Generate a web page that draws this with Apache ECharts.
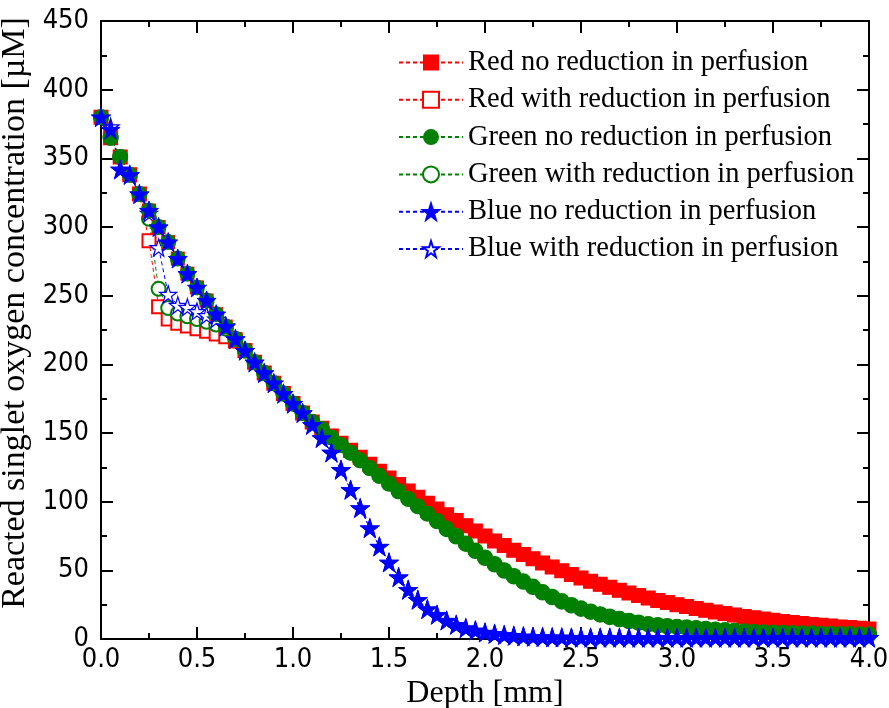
<!DOCTYPE html>
<html>
<head>
<meta charset="utf-8">
<script src="https://cdn.jsdelivr.net/npm/echarts@6/dist/echarts.min.js"></script>
<style>
  html, body { margin: 0; padding: 0; background: #fff; }
  #chart { width: 889px; height: 708px; }
</style>
</head>
<body>
<div id="chart"></div>
<script>
// ── Data ──────────────────────────────────────────────────────────────────────
const depth = [
  0.00, 0.05, 0.10, 0.15, 0.20, 0.25, 0.30, 0.35, 0.40, 0.45,
  0.50, 0.55, 0.60, 0.65, 0.70, 0.75, 0.80, 0.85, 0.90, 0.95,
  1.00, 1.05, 1.10, 1.15, 1.20, 1.25, 1.30, 1.35, 1.40, 1.45,
  1.50, 1.55, 1.60, 1.65, 1.70, 1.75, 1.80, 1.85, 1.90, 1.95,
  2.00, 2.05, 2.10, 2.15, 2.20, 2.25, 2.30, 2.35, 2.40, 2.45,
  2.50, 2.55, 2.60, 2.65, 2.70, 2.75, 2.80, 2.85, 2.90, 2.95,
  3.00, 3.05, 3.10, 3.15, 3.20, 3.25, 3.30, 3.35, 3.40, 3.45,
  3.50, 3.55, 3.60, 3.65, 3.70, 3.75, 3.80, 3.85, 3.90, 3.95,
  4.00
];

const redNo = [
  380, 365, 351, 338, 324, 312, 300, 289, 277, 266,
  256, 246.5, 236.5, 227.5, 218.5, 210, 201.5, 193.7, 186.3, 178.7,
  171.4, 164.6, 158, 153.5, 147.8, 142.6, 137.4, 132.3, 127.2, 122.1,
  117.2, 112.5, 107.8, 103.3, 98.9, 94.6, 90.4, 86.3, 82.4, 78.6,
  75, 71.4, 68, 64.7, 61.5, 58.4, 55.4, 52.5, 49.7, 47,
  44.5, 42.1, 39.8, 37.6, 35.5, 33.5, 31.6, 29.8, 28.1, 26.5,
  25, 23.6, 22.2, 20.9, 19.7, 18.5, 17.4, 16.4, 15.4, 14.5,
  13.6, 12.8, 12, 11.3, 10.6, 10, 9.4, 8.8, 8.3, 7.8,
  7.3
];

const redWith = [
  380, 365, 351, 338, 324, 290, 242, 233, 230, 228,
  226, 224, 222, 220, 217, 210, 201.5, 193.7, 186.3, 178.7,
  171.4, 164.6, 158, 153.5, 147.8, 142.6, 137.4, 132.3, 127.2, 122.1,
  117.2, 112.5, 107.8, 103.3, 98.9, 94.6, 90.4, 86.3, 82.4, 78.6,
  75, 71.4, 68, 64.7, 61.5, 58.4, 55.4, 52.5, 49.7, 47,
  44.5, 42.1, 39.8, 37.6, 35.5, 33.5, 31.6, 29.8, 28.1, 26.5,
  25, 23.6, 22.2, 20.9, 19.7, 18.5, 17.4, 16.4, 15.4, 14.5,
  13.6, 12.8, 12, 11.3, 10.6, 10, 9.4, 8.8, 8.3, 7.8,
  7.3
];

const greenNo = [
  380, 365, 351, 338, 324, 312, 300, 289, 277, 266,
  256, 246.5, 236.5, 227.5, 218.5, 210, 201.5, 193.7, 186.3, 178.7,
  171.4, 164.6, 158, 152.9, 146.8, 141.2, 135.7, 130.1, 124.5, 118.8,
  113.2, 107.6, 102.1, 96.7, 91.3, 85.9, 80.4, 75, 69.6, 64.4,
  59.4, 54.6, 50.1, 45.9, 42, 38.2, 34.2, 30.8, 27.6, 24.8,
  22.3, 20.1, 18.1, 16.3, 14.7, 13.3, 12.1, 11, 10.2, 9.5,
  9, 8.5, 8, 7.5, 7, 6.5, 6.1, 5.7, 5.3, 5,
  4.8, 4.6, 4.4, 4.2, 4.1, 3.9, 3.8, 3.7, 3.6, 3.5,
  3.4
];

const greenWith = [
  380, 365, 351, 338, 324, 306, 255, 241, 237, 235,
  233, 231, 229, 226, 218.5, 210, 201.5, 193.7, 186.3, 178.7,
  171.4, 164.6, 158, 152.9, 146.8, 141.2, 135.7, 130.1, 124.5, 118.8,
  113.2, 107.6, 102.1, 96.7, 91.3, 85.9, 80, 74.6, 69.2, 64,
  59, 54.2, 49.7, 45.5, 41.6, 37.8, 33.8, 30.4, 27.2, 24.4,
  21.9, 19.7, 17.7, 15.9, 14.3, 12.9, 11.7, 10.6, 9.8, 9.1,
  8.6, 8.1, 7.6, 7.1, 6.7, 6.2, 5.8, 5.4, 5.1, 4.8,
  4.6, 4.4, 4.2, 4.0, 3.9, 3.7, 3.6, 3.5, 3.4, 3.3,
  3.2
];

const blueNo = [
  380, 371, 342, 338, 324, 312, 300, 289, 277, 266,
  256, 246.5, 236.5, 227.5, 218.5, 210, 201.5, 193.7, 186.3, 178.7,
  171.4, 164.6, 156, 146.4, 135.9, 123.3, 108.7, 95.4, 80.8, 67.4,
  55.8, 45.1, 35.9, 28.6, 21.8, 17.7, 13.5, 10.4, 8, 6.3,
  4.8, 3.8, 3, 2.4, 2, 1.7, 1.5, 1.3, 1.2, 1.1,
  1, 1, 1, 1, 1, 1, 1, 1, 1, 1,
  1, 1, 1, 1, 1, 1, 1, 1, 1, 1,
  1, 1, 1, 1, 1, 1, 1, 1, 1, 1,
  1
];

const blueWith = [
  380, 373, 342, 338, 324, 310, 285, 251, 243, 241.5,
  238.5, 235.5, 233, 228, 218.5, 210, 201.5, 193.7, 186.3, 178.7,
  171.4, 164.6, 156, 146.4, 135.9, 123.3, 108.7, 95.4, 80.8, 67.4,
  55.8, 45.1, 35.9, 28.6, 21.8, 17.7, 13.5, 10.4, 8, 6.3,
  4.8, 3.8, 3, 2.4, 2, 1.7, 1.5, 1.3, 1.2, 1.1,
  1, 1, 1, 1, 1, 1, 1, 1, 1, 1,
  1, 1, 1, 1, 1, 1, 1, 1, 1, 1,
  1, 1, 1, 1, 1, 1, 1, 1, 1, 1,
  1
];

const seriesNames = [
  'Red no reduction in perfusion',
  'Red with reduction in perfusion',
  'Green no reduction in perfusion',
  'Green with reduction in perfusion',
  'Blue no reduction in perfusion',
  'Blue with reduction in perfusion',
];

// ── Styling ───────────────────────────────────────────────────────────────────
const RED = '#FF0000', GREEN = '#008000', BLUE = '#0000FF';
const STAR = 'path://M50,0 L61.8,35.1 L98.5,35.1 L68.7,56.8 L79.4,90.5 L50,69.1 L20.6,90.5 L31.3,56.8 L1.5,35.1 L38.2,35.1 Z';
const SERIF = "'Liberation Serif', 'Times New Roman', serif";
const NARROW = "'Liberation Sans Narrow', 'Arial Narrow', 'DejaVu Sans Condensed', sans-serif";

const pair = ys => depth.map((x, i) => [x, ys[i]]);

// open markers sit under the filled ones (z 2 vs 3), as in the reference
function makeSeries(name, ys, color, symbol, size, filled) {
  const isPath = symbol.startsWith('path://');
  let itemStyle;
  if (filled) itemStyle = isPath ? { color, borderColor: color, borderWidth: 1 } : { color, borderWidth: 0 };
  else if (isPath) itemStyle = { color: '#fff', borderColor: color, borderWidth: 1.2 };
  else itemStyle = { color, borderWidth: 1.2 }; // emptyRect / emptyCircle fill white themselves
  return {
    name,
    type: 'line',
    data: pair(ys),
    symbol,
    symbolSize: size,
    showAllSymbol: true,
    lineStyle: { color, width: 1, type: [4, 3] },
    itemStyle,
    emphasis: { disabled: true },
    z: filled ? 3 : 2,
  };
}

const axisLine = { show: true, onZero: false, lineStyle: { color: '#000', width: 2 } };
const tick = { show: true, inside: true, length: 12, lineStyle: { color: '#000', width: 2 } };
const minor = { show: true, splitNumber: 2, length: 6, lineStyle: { color: '#000', width: 2 } };

const xBase = {
  type: 'value', min: 0, max: 4, interval: 0.5,
  axisLine, axisTick: tick, minorTick: minor, splitLine: { show: false },
};
const yBase = {
  type: 'value', min: 0, max: 450, interval: 50,
  axisLine, axisTick: tick, minorTick: minor, splitLine: { show: false },
};

const chart = echarts.init(document.getElementById('chart'), null, { renderer: 'canvas' });
chart.setOption({
  animation: false,
  backgroundColor: '#fff',
  grid: { left: 101, right: 20, top: 21, bottom: 69, containLabel: false, outerBoundsMode: 'none' },
  legend: {
    orient: 'vertical',
    left: 393,
    top: 43,
    itemWidth: 64,
    itemHeight: 20,
    itemGap: 8.3,
    selectedMode: false,
    data: seriesNames,
    textStyle: { fontFamily: SERIF, fontSize: 28.5, color: '#000', lineHeight: 28 },
  },
  xAxis: [
    {
      ...xBase, position: 'bottom',
      name: 'Depth [mm]', nameLocation: 'middle', nameGap: 31,
      nameTextStyle: { fontFamily: SERIF, fontSize: 32, color: '#000' },
      axisLabel: { fontFamily: NARROW, fontSize: 27, color: '#000', margin: 7,
        formatter: v => v.toFixed(1) },
    },
    { ...xBase, position: 'top', axisLabel: { show: false } },
  ],
  yAxis: [
    {
      ...yBase, position: 'left',
      name: 'Reacted singlet oxygen concentration [µM]', nameLocation: 'middle', nameGap: 57,
      nameTextStyle: { fontFamily: SERIF, fontSize: 34, color: '#000', padding: [0, 0, 0, 34] },
      axisLabel: { fontFamily: NARROW, fontSize: 27, color: '#000', margin: 12 },
    },
    { ...yBase, position: 'right', axisLabel: { show: false } },
  ],
  series: [
    makeSeries(seriesNames[0], redNo, RED, 'rect', 14, true),
    makeSeries(seriesNames[1], redWith, RED, 'emptyRect', 13, false),
    makeSeries(seriesNames[2], greenNo, GREEN, 'circle', 16, true),
    makeSeries(seriesNames[3], greenWith, GREEN, 'emptyCircle', 14, false),
    makeSeries(seriesNames[4], blueNo, BLUE, STAR, 19, true),
    makeSeries(seriesNames[5], blueWith, BLUE, STAR, 17, false),
  ],
});
</script>
</body>
</html>
